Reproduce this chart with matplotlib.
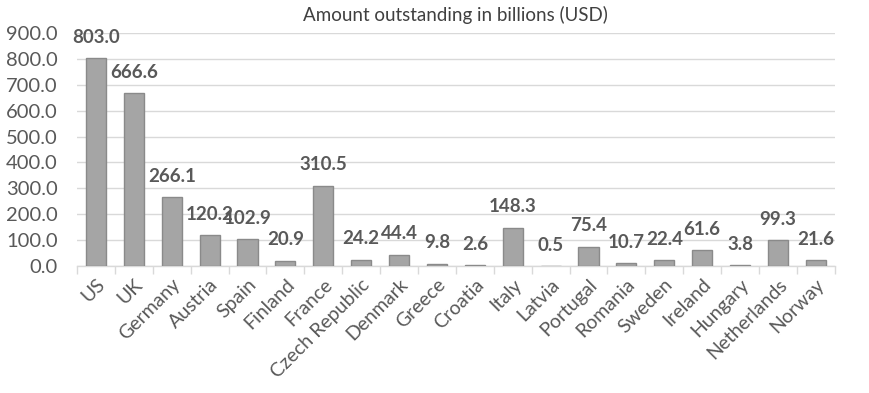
import matplotlib.pyplot as plt
import numpy as np

# Data
countries = ['US', 'UK', 'Germany', 'Austria', 'Spain', 'Finland', 'France',
             'Czech Republic', 'Denmark', 'Greece', 'Croatia', 'Italy', 'Latvia',
             'Portugal', 'Romania', 'Sweden', 'Ireland', 'Hungary', 'Netherlands', 'Norway']
amounts = [803.0, 666.6, 266.1, 120.2, 102.9, 20.9, 310.5, 24.2, 44.4, 9.8,
           2.6, 148.3, 0.5, 75.4, 10.7, 22.4, 61.6, 3.8, 99.3, 21.6]
yticks = np.arange(0, 1000, 100)

plt.rcParams['font.family'] = ['Lato', 'DejaVu Sans']

fig = plt.figure(figsize=(8.69, 3.93), dpi=100)
ax = fig.add_axes([0.0886, 0.323, 0.872, 0.593])

x = np.arange(len(countries))
ax.bar(x, amounts, width=0.53, color='#a5a5a5', edgecolor='#8a8a8a', linewidth=1.0, zorder=3)

for xi, v in zip(x, amounts):
    ax.annotate(f'{v:.1f}', (xi, v), xytext=(0, 15), textcoords='offset points',
                ha='center', va='center', fontsize=13.5, fontweight='bold', color='#595959', zorder=4)

ax.set_xlim(-0.5, len(countries) - 0.5)
ax.set_ylim(0, 900)
ax.set_yticks(yticks)
ax.set_yticklabels([f'{t:.1f}' for t in yticks], fontsize=14.5, color='#595959')
ax.grid(axis='y', color='#d9d9d9', linewidth=1, zorder=0)

ax.set_xticks(x)
ax.set_xticklabels(countries, rotation=45, ha='right', rotation_mode='anchor',
                   fontsize=14, color='#595959')
ax.set_xticks(np.arange(-0.5, len(countries)), minor=True)
ax.tick_params(axis='x', which='major', length=0, pad=7)
ax.tick_params(axis='x', which='minor', length=6, color='#d9d9d9', width=1)
ax.tick_params(axis='y', length=0, pad=14)

for s in ['top', 'right', 'left']:
    ax.spines[s].set_visible(False)
ax.spines['bottom'].set_color('#d9d9d9')
ax.spines['bottom'].set_linewidth(1)

ax.set_title('Amount outstanding in billions (USD)', fontsize=13.5, color='#404040', pad=9)

fig.savefig('out.png', dpi=100)
